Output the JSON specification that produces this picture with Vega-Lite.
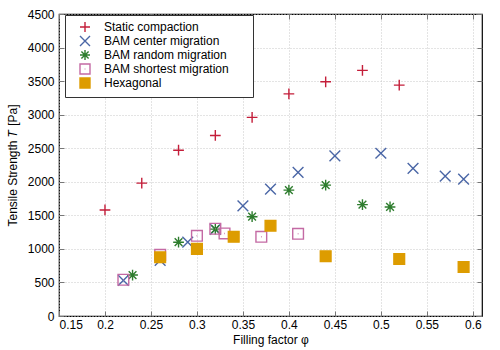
{
  "$schema": "https://vega.github.io/schema/vega-lite/v6.json",
  "width": 423,
  "height": 302,
  "autosize": {"type": "none"},
  "padding": {"left": 59, "top": 14, "right": 18, "bottom": 34},
  "config": {
    "font": "Liberation Sans",
    "view": {"stroke": "#000", "strokeWidth": 1.2},
    "axis": {
      "labelFont": "Liberation Sans",
      "titleFont": "Liberation Sans",
      "labelFontSize": 12,
      "titleFontSize": 12,
      "labelColor": "#000",
      "titleColor": "#000",
      "titleFontWeight": "normal",
      "domain": false,
      "tickColor": "#777",
      "tickSize": -5,
      "gridColor": "#c8c8c8",
      "gridDash": [1, 2],
      "gridWidth": 1
    },
    "legend": {
      "labelFont": "Liberation Sans",
      "labelFontSize": 12,
      "labelColor": "#000"
    }
  },
  "data": {
    "values": [
      {"series": "Static compaction", "phi": 0.2, "T": 1580},
      {"series": "Static compaction", "phi": 0.24, "T": 1980},
      {"series": "Static compaction", "phi": 0.28, "T": 2470},
      {"series": "Static compaction", "phi": 0.32, "T": 2690},
      {"series": "Static compaction", "phi": 0.36, "T": 2960},
      {"series": "Static compaction", "phi": 0.40, "T": 3310},
      {"series": "Static compaction", "phi": 0.44, "T": 3490},
      {"series": "Static compaction", "phi": 0.48, "T": 3660},
      {"series": "Static compaction", "phi": 0.52, "T": 3440},
      {"series": "BAM center migration", "phi": 0.22, "T": 530},
      {"series": "BAM center migration", "phi": 0.26, "T": 830},
      {"series": "BAM center migration", "phi": 0.29, "T": 1100},
      {"series": "BAM center migration", "phi": 0.32, "T": 1290},
      {"series": "BAM center migration", "phi": 0.35, "T": 1640},
      {"series": "BAM center migration", "phi": 0.38, "T": 1890},
      {"series": "BAM center migration", "phi": 0.41, "T": 2140},
      {"series": "BAM center migration", "phi": 0.45, "T": 2385},
      {"series": "BAM center migration", "phi": 0.50, "T": 2425},
      {"series": "BAM center migration", "phi": 0.535, "T": 2200},
      {"series": "BAM center migration", "phi": 0.57, "T": 2085},
      {"series": "BAM center migration", "phi": 0.59, "T": 2040},
      {"series": "BAM random migration", "phi": 0.23, "T": 610},
      {"series": "BAM random migration", "phi": 0.28, "T": 1100},
      {"series": "BAM random migration", "phi": 0.32, "T": 1295},
      {"series": "BAM random migration", "phi": 0.36, "T": 1480},
      {"series": "BAM random migration", "phi": 0.40, "T": 1875},
      {"series": "BAM random migration", "phi": 0.44, "T": 1950},
      {"series": "BAM random migration", "phi": 0.48, "T": 1660},
      {"series": "BAM random migration", "phi": 0.51, "T": 1625},
      {"series": "BAM shortest migration", "phi": 0.22, "T": 540},
      {"series": "BAM shortest migration", "phi": 0.26, "T": 910},
      {"series": "BAM shortest migration", "phi": 0.30, "T": 1195},
      {"series": "BAM shortest migration", "phi": 0.32, "T": 1300},
      {"series": "BAM shortest migration", "phi": 0.33, "T": 1230},
      {"series": "BAM shortest migration", "phi": 0.37, "T": 1180},
      {"series": "BAM shortest migration", "phi": 0.41, "T": 1225},
      {"series": "Hexagonal", "phi": 0.26, "T": 875},
      {"series": "Hexagonal", "phi": 0.30, "T": 1000},
      {"series": "Hexagonal", "phi": 0.34, "T": 1180},
      {"series": "Hexagonal", "phi": 0.38, "T": 1345},
      {"series": "Hexagonal", "phi": 0.44, "T": 890},
      {"series": "Hexagonal", "phi": 0.52, "T": 850},
      {"series": "Hexagonal", "phi": 0.59, "T": 730}
    ]
  },
  "layer": [
    {
      "mark": {"type": "point", "strokeWidth": 1.4, "opacity": 1},
      "encoding": {
        "x": {
          "field": "phi", "type": "quantitative",
          "scale": {"domain": [0.15, 0.61], "nice": false, "zero": false},
          "axis": {"orient": "bottom", "values": [0.15, 0.2, 0.25, 0.3, 0.35, 0.4, 0.45, 0.5, 0.55, 0.6], "format": "~g", "title": "Filling factor φ", "labelPadding": 8, "titlePadding": 4}
        },
        "y": {
          "field": "T", "type": "quantitative",
          "scale": {"domain": [0, 4500], "nice": false},
          "axis": {"orient": "left", "values": [0, 500, 1000, 1500, 2000, 2500, 3000, 3500, 4000, 4500], "format": "d", "title": "Tensile Strength 𝑇 [Pa]", "labelPadding": 10, "titlePadding": 8}
        },
        "shape": {
          "field": "series", "type": "nominal",
          "scale": {
            "domain": ["Static compaction", "BAM center migration", "BAM random migration", "BAM shortest migration", "Hexagonal"],
            "range": ["M-1,0L1,0M0,-1L0,1", "M-1,-1L1,1M-1,1L1,-1", "M-1,0L1,0M0,-1L0,1M-0.72,-0.72L0.72,0.72M-0.72,0.72L0.72,-0.72", "M-1,-1L1,-1L1,1L-1,1Z M-0.06,0L0.06,0", "square"]
          },
          "legend": {"title": null, "orient": "none", "legendX": 6, "legendY": 1, "strokeColor": "#333", "fillColor": "#fff", "padding": 6, "symbolOffset": 8, "labelOffset": 13, "rowPadding": -2, "symbolSize": 100, "symbolStrokeWidth": 1.4, "labelExpr": "datum.label + '\u2800\u2800'"}
        },
        "stroke": {
          "field": "series", "type": "nominal",
          "scale": {
            "domain": ["Static compaction", "BAM center migration", "BAM random migration", "BAM shortest migration", "Hexagonal"],
            "range": ["#c41e3a", "#4a66a6", "#2e7d2e", "#c46aa4", "#dd9c00"]
          },
          "legend": {"title": null, "labelExpr": "datum.label + '\u2800\u2800'"}
        },
        "fill": {
          "field": "series", "type": "nominal",
          "scale": {
            "domain": ["Static compaction", "BAM center migration", "BAM random migration", "BAM shortest migration", "Hexagonal"],
            "range": ["transparent", "transparent", "transparent", "transparent", "#dd9c00"]
          },
          "legend": {"title": null, "labelExpr": "datum.label + '\u2800\u2800'"}
        },
        "size": {"value": 115}
      }
    },
    {
      "mark": {"type": "point", "opacity": 0},
      "encoding": {
        "x": {
          "field": "phi", "type": "quantitative",
          "scale": {"domain": [0.15, 0.61], "nice": false, "zero": false},
          "axis": {"orient": "top", "values": [0.15, 0.2, 0.25, 0.3, 0.35, 0.4, 0.45, 0.5, 0.55, 0.6], "labels": false, "title": null, "grid": false}
        },
        "y": {
          "field": "T", "type": "quantitative",
          "scale": {"domain": [0, 4500], "nice": false},
          "axis": {"orient": "right", "values": [0, 500, 1000, 1500, 2000, 2500, 3000, 3500, 4000, 4500], "labels": false, "title": null, "grid": false}
        }
      }
    }
  ],
  "resolve": {"axis": {"x": "independent", "y": "independent"}}
}
